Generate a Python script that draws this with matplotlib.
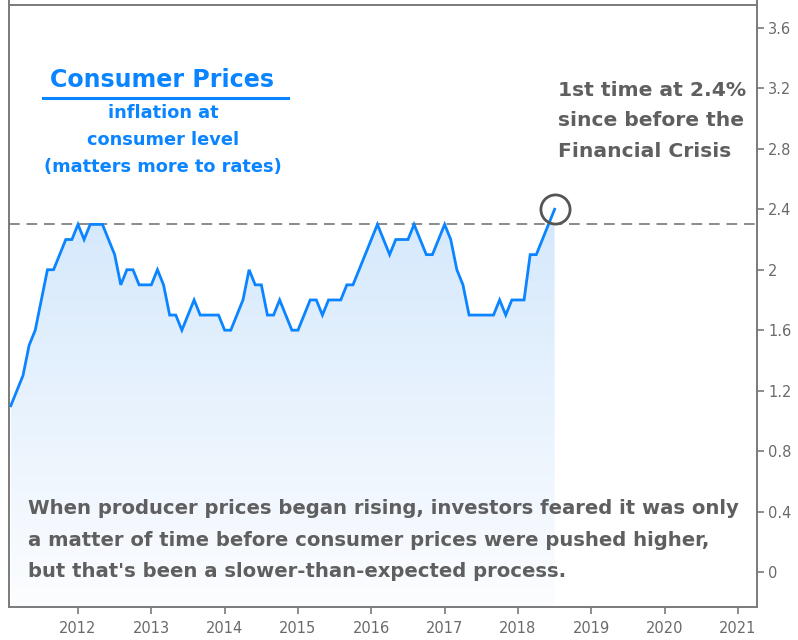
import numpy as np
import matplotlib
matplotlib.use("Agg")
import matplotlib.pyplot as plt
from matplotlib.lines import Line2D

# ---- data: monthly values, Feb 2011 .. Jul 2018 ----
start_year = 2011
start_month = 2  # February
values = [
    1.1, 1.2, 1.3, 1.5, 1.6, 1.8, 2.0, 2.0, 2.1, 2.2, 2.2,            # 2011 Feb-Dec
    2.3, 2.2, 2.3, 2.3, 2.3, 2.2, 2.1, 1.9, 2.0, 2.0, 1.9, 1.9,       # 2012
    1.9, 2.0, 1.9, 1.7, 1.7, 1.6, 1.7, 1.8, 1.7, 1.7, 1.7, 1.7,       # 2013
    1.6, 1.6, 1.7, 1.8, 2.0, 1.9, 1.9, 1.7, 1.7, 1.8, 1.7, 1.6,       # 2014
    1.6, 1.7, 1.8, 1.8, 1.7, 1.8, 1.8, 1.8, 1.9, 1.9, 2.0, 2.1,       # 2015
    2.2, 2.3, 2.2, 2.1, 2.2, 2.2, 2.2, 2.3, 2.2, 2.1, 2.1, 2.2,       # 2016
    2.3, 2.2, 2.0, 1.9, 1.7, 1.7, 1.7, 1.7, 1.7, 1.8, 1.7, 1.8,       # 2017
    1.8, 1.8, 2.1, 2.1, 2.2, 2.3, 2.4,                                # 2018 Jan-Jul
]
ref_level = 2.3
x_ticks = [2012, 2013, 2014, 2015, 2016, 2017, 2018, 2019, 2020, 2021]
y_ticks = [0, 0.4, 0.8, 1.2, 1.6, 2.0, 2.4, 2.8, 3.2, 3.6]

title = "Consumer Prices"
subtitle = "inflation at\nconsumer level\n(matters more to rates)"
note = "1st time at 2.4%\nsince before the\nFinancial Crisis"
caption = ("When producer prices began rising, investors feared it was only\n"
           "a matter of time before consumer prices were pushed higher,\n"
           "but that's been a slower-than-expected process.")

dates = np.array([start_year + (start_month - 1 + i) / 12.0 for i in range(len(values))])
vals = np.array(values)

W, H = 798, 640
fig = plt.figure(figsize=(W / 100, H / 100), dpi=100)
L, R, T, B = 9, 757, 5, 607
ax = fig.add_axes([L / W, 1 - B / H, (R - L) / W, (B - T) / H])

xmin, xmax = 2011.059, 2021.26
ymin, ymax = -0.232, 3.752
ax.set_xlim(xmin, xmax)
ax.set_ylim(ymin, ymax)

blue = "#0a84ff"
gray_txt = "#5f5f5f"
spine_col = "#7a7a7a"

# gradient fill under the line
fill = ax.fill_between(dates, vals, ymin, color="none", lw=0)
grad = np.linspace(0, 1, 256).reshape(-1, 1)
top_c = np.array([214, 233, 252]) / 255.0
bot_c = np.array([252, 253, 255]) / 255.0
img = top_c * (1 - grad[..., None]) + bot_c * grad[..., None]
img = img.reshape(256, 1, 3)
im = ax.imshow(img, extent=[dates[0], dates[-1], ymin, ref_level], origin="upper",
               aspect="auto", zorder=1, interpolation="bilinear")
poly = fill.get_paths()[0]
im.set_clip_path(poly, transform=ax.transData)

ax.plot(dates, vals, color=blue, lw=2.0, zorder=3, solid_joinstyle="miter")
ax.axhline(ref_level, color="#8a8a8a", lw=1.4, ls=(0, (5.5, 3.5)), zorder=2)

# circle at last point
ax.plot(dates[-1], vals[-1], marker="o", ms=21, mfc="none", mec="#555555", mew=2.0, zorder=4)

# axes styling
for s in ax.spines.values():
    s.set_color(spine_col)
    s.set_linewidth(1.4)
ax.yaxis.tick_right()
ax.set_xticks(x_ticks)
ax.set_xticklabels([str(t) for t in x_ticks])
ax.set_yticks(y_ticks)
ax.set_yticklabels(["{:g}".format(t) for t in y_ticks])
ax.tick_params(axis="both", colors=spine_col, length=5, width=1.2, labelsize=10.5,
               labelcolor="#6a6a6a")
ax.tick_params(axis="x", pad=5)
ax.tick_params(axis="y", pad=3)

# extend vertical spines to top of figure
for xs in (L, R):
    fig.add_artist(Line2D([xs / W, xs / W], [1 - T / H, 1.0], color=spine_col, lw=1.4,
                          transform=fig.transFigure))

# texts
fig.text(162 / W, 1 - 80 / H, title, color=blue, fontsize=17.1, fontweight="bold",
         ha="center", va="center")
fig.add_artist(Line2D([43 / W, 288 / W], [1 - 98 / H, 1 - 98 / H], color=blue, lw=2.2,
                      transform=fig.transFigure))
fig.text(163 / W, 1 - 140 / H, subtitle, color=blue, fontsize=12.8, fontweight="bold",
         ha="center", va="center", linespacing=1.62)
fig.text(558 / W, 1 - 121 / H, note, color=gray_txt, fontsize=14.6, fontweight="bold",
         ha="left", va="center", linespacing=1.75)
fig.text(28 / W, 1 - 540 / H, caption, color=gray_txt, fontsize=14.1, fontweight="bold",
         ha="left", va="center", linespacing=1.82)

fig.savefig("out.png", dpi=100)
